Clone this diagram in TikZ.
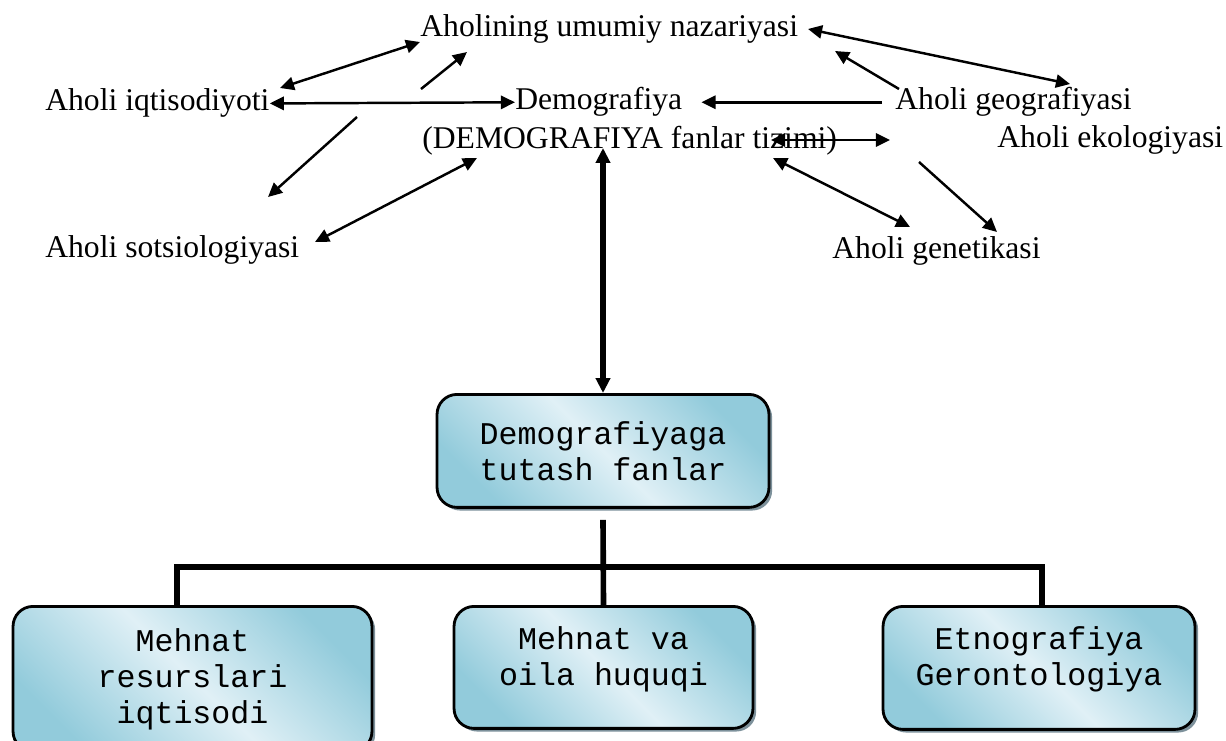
\documentclass[tikz,border=0pt]{standalone}
\usepackage{fontspec}
\setmainfont{Liberation Serif}
\setmonofont{Liberation Mono}
\usepackage{tikz}
\usetikzlibrary{arrows.meta,shadows,positioning}
\definecolor{fanlight}{RGB}{224,240,246}
\definecolor{fandark}{RGB}{146,203,219}
\definecolor{fanshadow}{RGB}{125,145,155}
\tikzstyle{term} = [inner sep=0pt, anchor=base west, font=\fontsize{18}{21}\selectfont]
\tikzstyle{fanbox} = [rectangle, rounded corners=0.4cm, anchor=north, align=center, draw=black, line width=1.6pt, top color=fandark, bottom color=fandark, middle color=fanlight, shading angle=-45, drop shadow={shadow xshift=1.8pt, shadow yshift=-1.8pt, fill=fanshadow, opacity=1}, font=\fontsize{18}{20.5}\selectfont\ttfamily]
\tikzstyle{arrow} = [line width=1.4pt, ->, >={Triangle[length=8pt,width=7.5pt]}]
\tikzstyle{dblarrow} = [arrow, <->]
\tikzstyle{bigarrow} = [line width=3.2pt, <->, >={Triangle[length=8.5pt,width=8pt]}]
\tikzstyle{treeline} = [line width=3.2pt]

\begin{document}
\begin{tikzpicture}[x=0.02cm, y=-0.02cm]
\useasboundingbox (0,0) rectangle (1226,740);

% Demografiya and its branches
\node[term] (nazar) at (420,37) {Aholining umumiy nazariyasi};
\node[term] (iqt) at (45,111) {Aholi iqtisodiyoti};
\node[term] (demo) at (515,110) {Demografiya};
\node[term] (demosys) at (422,148) {(DEMOGRAFIYA fanlar tizimi)};
\node[term] (geog) at (895,110) {Aholi geografiyasi};
\node[term] (ekol) at (997,147) {Aholi ekologiyasi};
\node[term] (sots) at (45,257) {Aholi sotsiologiyasi};
\node[term] (genet) at (832,258) {Aholi genetikasi};

% arrow ends
\coordinate (iqtNE) at (280,88);
\coordinate (nazSW) at (420,42);
\coordinate (upTail) at (421,89);
\coordinate (upTip) at (467,52);
\coordinate (dnTail) at (357,117);
\coordinate (dnTip) at (268,197);
\coordinate (sotsE) at (315,242);
\coordinate (demoSW) at (477,158);
\coordinate (nazE) at (808,29);
\coordinate (geogNE) at (1070,84);
\coordinate (geoTail) at (899,89);
\coordinate (geoTip) at (835,51);
\coordinate (tizL) at (771,140);
\coordinate (tizR) at (890,140);
\coordinate (demoSE) at (773,158);
\coordinate (genN) at (910,227);
\coordinate (genTail) at (919,162);
\coordinate (genTip) at (997,232);

% Arrows
\draw[dblarrow] (iqtNE) -- (nazSW);
\draw[arrow] (upTail) -- (upTip);
\draw[dblarrow] (iqt.east) -- (demo.west);
\draw[arrow] (dnTail) -- (dnTip);
\draw[dblarrow] (sotsE) -- (demoSW);
\draw[dblarrow] (nazE) -- (geogNE);
\draw[arrow] (geoTail) -- (geoTip);
\draw[arrow, shorten <=7.4pt, shorten >=10.8pt] (geog.west) -- (demo.east);
\draw[dblarrow] (tizL) -- (tizR);
\draw[dblarrow] (demoSE) -- (genN);
\draw[arrow] (genTail) -- (genTip);

% Tutash fanlar
\node[fanbox, minimum width=6.64cm, minimum height=2.26cm] (top) at (603,393) {Demografiyaga\\tutash fanlar};
\node[fanbox, minimum width=7.18cm, minimum height=2.9cm] (left) at (192.5,605) {Mehnat\\resurslari\\iqtisodi};
\node[fanbox, minimum width=5.98cm, minimum height=2.44cm, text depth=13pt] (mid) at (603.5,605) {Mehnat va\\oila huquqi};
\node[fanbox, minimum width=6.24cm, minimum height=2.46cm, text depth=13pt] (right) at (1039,605) {Etnografiya\\Gerontologiya};

\draw[bigarrow] (top.north) -- (top.north |- demosys.base);

% Tree
\coordinate (forkL) at (177,567);
\coordinate (forkR) at (1042,567);
\draw[treeline] (top.south) ++(0,11) -- (mid.north);
\draw[treeline] (left.north -| forkL) -- (forkL) -- (forkR) -- (right.north -| forkR);
\end{tikzpicture}
\end{document}
